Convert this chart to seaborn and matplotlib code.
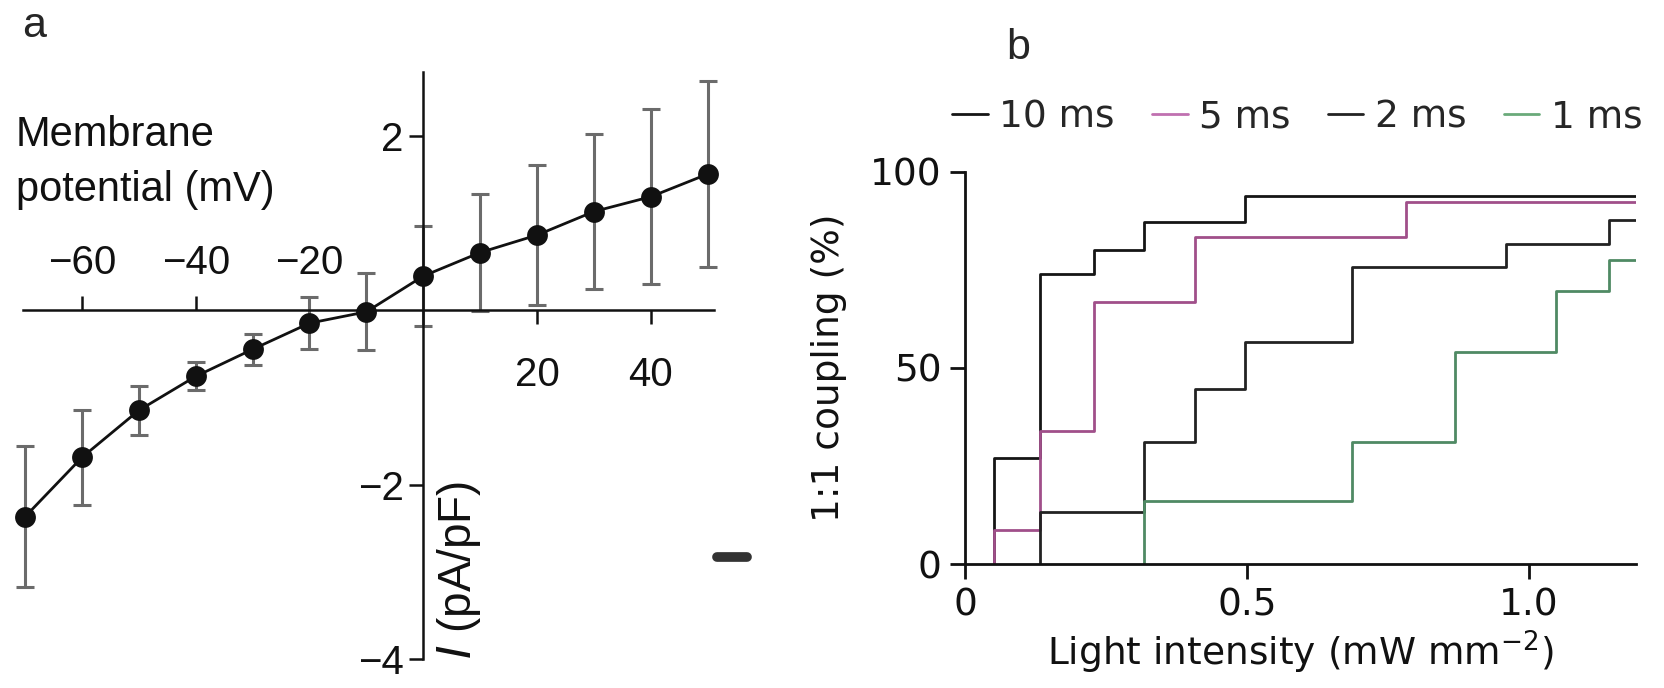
import matplotlib
matplotlib.use("Agg")
import matplotlib.pyplot as plt
import seaborn as sns
import pandas as pd
from matplotlib.lines import Line2D

# panel a: current density vs membrane potential
voltage = [-70, -60, -50, -40, -30, -20, -10, 0, 10, 20, 30, 40, 50]
current = [-2.37, -1.69, -1.15, -0.76, -0.45, -0.15, -0.02, 0.39, 0.66, 0.86, 1.13, 1.30, 1.56]
current_err = [0.81, 0.55, 0.28, 0.16, 0.18, 0.30, 0.44, 0.57, 0.67, 0.80, 0.89, 1.00, 1.07]

# panel b: 1:1 coupling steps (intensity where step occurs, level reached)
int_10ms = [0.052, 0.133, 0.229, 0.317, 0.496]
cpl_10ms = [27.0, 73.9, 80.1, 87.3, 93.9]
int_5ms = [0.052, 0.133, 0.229, 0.408, 0.782]
cpl_5ms = [8.7, 34.0, 66.9, 83.4, 92.4]
int_2ms = [0.133, 0.317, 0.408, 0.496, 0.686, 0.959, 1.142]
cpl_2ms = [13.2, 31.2, 44.6, 56.5, 75.7, 81.6, 87.7]
int_1ms = [0.317, 0.686, 0.869, 1.048, 1.142]
cpl_1ms = [16.0, 31.2, 54.0, 69.5, 77.4]
max_intensity = 1.19
pulse_labels = ["10 ms", "5 ms", "2 ms", "1 ms"]

sns.set_style("ticks")
plt.rcParams["font.family"] = ["Liberation Sans", "DejaVu Sans"]
plt.rcParams["mathtext.fontset"] = "dejavusans"

line_colors = {"10 ms": "#151515", "5 ms": "#a04f8a", "2 ms": "#222222", "1 ms": "#4f8a64"}
legend_colors = {"10 ms": "#151515", "5 ms": "#c070b0", "2 ms": "#222222", "1 ms": "#6aaa7a"}
ink = "#111111"

fig = plt.figure(figsize=(16.64, 6.88), dpi=100)

# ---------------- panel a ----------------
ax_a = fig.add_axes([0.0140, 0.0422, 0.4151, 0.8532])
ax_a.errorbar(voltage, current, yerr=current_err, fmt="none", ecolor="#6b6b6b",
              elinewidth=2.2, capsize=6.5, capthick=2.2, zorder=2, clip_on=False)
sns.lineplot(x=voltage, y=current, marker="o", markersize=15, markeredgewidth=0,
             color=ink, lw=2.0, ax=ax_a, zorder=3, clip_on=False)
ax_a.set_xlim(-70.3, 51.1)
ax_a.set_ylim(-4, 2.73)
for side in ["top", "right"]:
    ax_a.spines[side].set_visible(False)
for side in ["left", "bottom"]:
    ax_a.spines[side].set_position(("data", 0))
    ax_a.spines[side].set_linewidth(1.8)
    ax_a.spines[side].set_color(ink)
ax_a.set_xticks([20, 40])
ax_a.set_yticks([2, -2, -4])
ax_a.tick_params(direction="out", length=10, width=1.8, labelsize=29, colors=ink)
ax_a.tick_params(axis="x", pad=23)
ax_a.tick_params(axis="y", pad=4)
ax_a.set_xlabel("")
ax_a.set_ylabel("")

# negative voltages: ticks and labels above the zero line
sec = ax_a.secondary_xaxis(0, transform=ax_a.transData)
sec.set_alignment("top")
sec.set_xticks([-60, -40, -20])
sec.tick_params(direction="out", length=10, width=1.8, labelsize=29, pad=10, colors=ink)
for s in sec.spines.values():
    s.set_visible(False)

ax_a.text(6.3, -2.98, r"$\it{I}$ (pA/pF)", rotation=90, ha="center", va="center",
          fontsize=33, color=ink)
fig.text(16 / 1664, 1 - 146 / 688, "Membrane", ha="left", va="baseline", fontsize=30, color=ink)
fig.text(16 / 1664, 1 - 201 / 688, "potential (mV)", ha="left", va="baseline", fontsize=30,
         color=ink)
fig.text(22 / 1664, 1 - 6 / 688, "a", ha="left", va="top", fontsize=31)
fig.add_artist(Line2D([717 / 1664, 747 / 1664], [1 - 557 / 688] * 2, lw=7, color="#333333"))

# ---------------- panel b ----------------
frames = []
for lab, xs, ys in zip(pulse_labels, [int_10ms, int_5ms, int_2ms, int_1ms],
                       [cpl_10ms, cpl_5ms, cpl_2ms, cpl_1ms]):
    frames.append(pd.DataFrame({
        "intensity": [xs[0]] + xs + [max_intensity],
        "coupling": [0] + ys + [ys[-1]],
        "pulse": lab,
    }))
steps = pd.concat(frames, ignore_index=True)

ax_b = fig.add_axes([0.5799, 0.1802, 0.4033, 0.5702])
sns.lineplot(data=steps, x="intensity", y="coupling", hue="pulse", palette=line_colors,
             estimator=None, sort=False, drawstyle="steps-post", lw=2.0, ax=ax_b, legend=False)
ax_b.set_xlim(0, max_intensity)
ax_b.set_ylim(0, 100)
sns.despine(ax=ax_b)
for side in ["left", "bottom"]:
    ax_b.spines[side].set_linewidth(2.0)
    ax_b.spines[side].set_color(ink)
ax_b.set_xticks([0, 0.5, 1.0])
ax_b.set_xticklabels(["0", "0.5", "1.0"])
ax_b.set_yticks([0, 50, 100])
ax_b.tick_params(direction="out", length=11, width=2.0, labelsize=27, pad=6, colors=ink)
for lbl in ax_b.get_xticklabels() + ax_b.get_yticklabels():
    lbl.set_fontfamily("DejaVu Sans")
ax_b.set_xlabel(r"Light intensity (mW mm$^{-2}$)", fontsize=27, family="DejaVu Sans",
                labelpad=4, color=ink)
ax_b.set_ylabel("1:1 coupling (%)", fontsize=27, family="DejaVu Sans", labelpad=16, color=ink)

handles = [Line2D([], [], color=legend_colors[lab], lw=2.0) for lab in pulse_labels]
ax_b.legend(handles, pulse_labels, ncol=4, frameon=False, loc="center left",
            bbox_to_anchor=(952 / 1664, 1 - 117 / 688), bbox_transform=fig.transFigure,
            borderaxespad=0, borderpad=0, handlelength=0.95, handletextpad=0.3,
            columnspacing=1.0, prop={"family": "DejaVu Sans", "size": 27})
fig.text(1006 / 1664, 1 - 28 / 688, "b", ha="left", va="top", fontsize=31)

fig.savefig("out.png", dpi=100)
